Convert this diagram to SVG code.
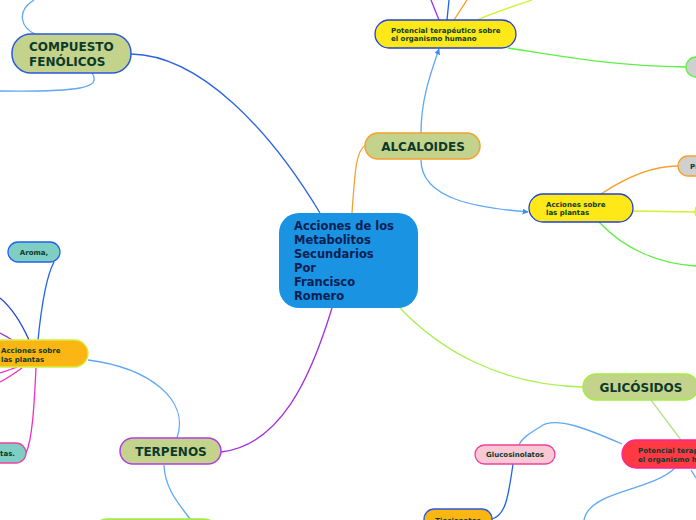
<svg xmlns="http://www.w3.org/2000/svg" width="696" height="520" viewBox="0 0 696 520">
<style>
text{font-family:"DejaVu Sans","Verdana",sans-serif;font-weight:bold;fill:#0c3a2a}
.big{font-size:12px}
.sm{font-size:7px}
.c{fill:none;stroke-width:1.3}
.lb{stroke:#5fa8f5}
.olive{fill:#c3d38b;stroke-width:1.5}
</style>
<defs>
<marker id="arr" viewBox="0 0 10 10" refX="9" refY="5" markerWidth="6" markerHeight="6" orient="auto" markerUnits="userSpaceOnUse">
<path d="M0,0 L10,5 L0,10 z" fill="#3d8ef0"/>
</marker>
</defs>
<g id="connectors">
<path class="c" stroke="#2d64e0" d="M320,213 C270,130 200,55 131,54"/>
<path class="c" stroke="#f5a030" d="M352,213 C355,170 356,150 366,145"/>
<path class="c" stroke="#a8f050" d="M400,308 C440,350 500,385 583,387"/>
<path class="c" stroke="#a030e0" d="M332,308 C310,380 280,445 221,452"/>
<path class="c lb" d="M35,34 C22,28 15,12 34,0"/>
<path class="c lb" d="M92,73 C102,88 80,92 0,91"/>
<path class="c lb" d="M421,133 C421,100 430,75 439,49" marker-end="url(#arr)"/>
<path class="c lb" d="M421,160 C421,200 480,208 528,212" marker-end="url(#arr)"/>
<path class="c" stroke="#9a30e0" d="M439,20 L431,0"/>
<path class="c" stroke="#2060f0" stroke-width="1.8" d="M447,20 L449,0"/>
<path class="c" stroke="#f59a20" d="M454,20 L467,0"/>
<path class="c" stroke="#d4f030" d="M477,20 C495,12 515,6 532,0"/>
<path class="c" stroke="#5cf040" d="M508,48 C560,56 610,66 686,67"/>
<path class="c" stroke="#f5a030" d="M601,194 C625,178 650,166 678,166"/>
<path class="c" stroke="#d4f030" d="M633,211 L696,212"/>
<path class="c" stroke="#5cf040" d="M599,222 C625,250 660,264 696,266"/>
<path class="c" stroke="#b8e090" d="M651,400 L681,440"/>
<path class="c lb" d="M622,444 C590,430 555,415 540,427 C530,433 522,438 519,445"/>
<path class="c" stroke="#2060f0" d="M513,464 C508,500 505,515 492,519"/>
<path class="c lb" d="M675,468 C650,492 590,490 584,520"/>
<path class="c lb" d="M691,470 L696,478"/>
<path class="c lb" d="M177,438 C190,400 150,368 88,360"/>
<path class="c lb" d="M164,465 C165,490 180,505 190,519"/>
<path class="c" stroke="#2060f0" d="M38,340 C42,300 47,275 54,262"/>
<path class="c" stroke="#2040d8" d="M29,340 C20,320 12,308 0,298"/>
<path class="c" stroke="#9a30e0" d="M12,340 C8,337 4,335 0,333"/>
<path class="c" stroke="#f030c0" d="M22,368 C15,373 8,378 0,382"/>
<path class="c" stroke="#f030c0" d="M17,367 C12,369 6,371 0,373"/>
<path class="c" stroke="#f030c0" d="M36,368 C34,410 32,440 26,453"/>
</g>
<g id="central">
<rect x="279" y="213" width="139" height="95" rx="20" fill="#1a93e3"/>
<text x="294" y="230" font-size="11.5" style="fill:#0a2050">Acciones de los</text>
<text x="294" y="244" font-size="11.5" style="fill:#0a2050">Metabolitos</text>
<text x="294" y="258" font-size="11.5" style="fill:#0a2050">Secundarios</text>
<text x="294" y="272" font-size="11.5" style="fill:#0a2050">Por</text>
<text x="294" y="286" font-size="11.5" style="fill:#0a2050">Francisco</text>
<text x="294" y="300" font-size="11.5" style="fill:#0a2050">Romero</text>
</g>
<g id="compuesto">
<rect x="12" y="34" width="119" height="39" rx="19" class="olive" stroke="#2a5ad8"/>
<text x="29" y="51" class="big">COMPUESTO</text>
<text x="29" y="66" class="big">FENÓLICOS</text>
</g>
<g id="alcaloides">
<rect x="365" y="133" width="115" height="26" rx="13" class="olive" stroke="#f5a030"/>
<text x="423" y="151" class="big" text-anchor="middle">ALCALOIDES</text>
</g>
<g id="potencial-alc">
<rect x="375" y="20" width="141" height="28" rx="14" fill="#ffe817" stroke="#2040d8" stroke-width="1.3"/>
<text x="391" y="33" class="sm">Potencial terapéutico sobre</text>
<text x="391" y="41" class="sm">el organismo humano</text>
</g>
<g id="acciones-alc">
<rect x="529" y="194" width="104" height="28" rx="14" fill="#ffe817" stroke="#2040d8" stroke-width="1.3"/>
<text x="546" y="207" class="sm">Acciones sobre</text>
<text x="546" y="215" class="sm">las plantas</text>
</g>
<g id="gris-top">
<rect x="686" y="57" width="40" height="20" rx="10" fill="#d0d0d0" stroke="#5cf040" stroke-width="1.3"/>
</g>
<g id="gris-pr">
<rect x="678" y="156" width="50" height="20" rx="10" fill="#d0d0d0" stroke="#f5a030" stroke-width="1.3"/>
<text x="690" y="169" class="sm">Pr</text>
</g>
<g id="yg-node">
<rect x="695" y="203" width="40" height="17" rx="8" fill="#eef58a" stroke="#d4f030" stroke-width="1.3"/>
</g>
<g id="glicosidos">
<rect x="583" y="374" width="115" height="26" rx="13" class="olive" stroke="#a0f040"/>
<text x="641" y="392" class="big" text-anchor="middle">GLICÓSIDOS</text>
</g>
<g id="potencial-gli">
<rect x="622" y="440" width="110" height="28" rx="14" fill="#ff3a44" stroke="#ff20a0" stroke-width="1.3"/>
<text x="638" y="453" class="sm">Potencial terapéutico sobre</text>
<text x="638" y="461.5" class="sm">el organismo humano</text>
</g>
<g id="glucosinolatos">
<rect x="475" y="445" width="80" height="19" rx="9.5" fill="#f8c8d4" stroke="#f0409a" stroke-width="1.3"/>
<text x="515" y="457" class="sm" text-anchor="middle">Glucosinolatos</text>
</g>
<g id="tiocianatos">
<rect x="424" y="509" width="68" height="24" rx="10" fill="#fbb614" stroke="#2a5ad8" stroke-width="1.3"/>
<text x="458" y="522.5" class="sm" text-anchor="middle">Tiocianatos</text>
</g>
<g id="terpenos">
<rect x="120" y="438" width="101" height="26" rx="13" class="olive" stroke="#b040e0"/>
<text x="171" y="456" class="big" text-anchor="middle">TERPENOS</text>
</g>
<g id="green-bottom">
<rect x="93" y="519" width="125" height="28" rx="14" fill="#c3d38b" stroke="#a0f040" stroke-width="1.5"/>
</g>
<g id="acciones-ter">
<rect x="-12" y="340" width="100" height="27" rx="13.5" fill="#fbb614" stroke="#d0f040" stroke-width="1.3"/>
<text x="1" y="352.5" class="sm">Acciones sobre</text>
<text x="1" y="361.5" class="sm">las plantas</text>
</g>
<g id="aroma">
<rect x="8" y="242" width="52" height="20" rx="10" fill="#7ecec4" stroke="#2060f0" stroke-width="1.3"/>
<text x="34" y="255" class="sm" text-anchor="middle">Aroma,</text>
</g>
<g id="tas">
<rect x="-12" y="443" width="38" height="20" rx="10" fill="#7ecec4" stroke="#f040a0" stroke-width="1.3"/>
<text x="15" y="456" class="sm" text-anchor="end">tas.</text>
</g>
</svg>
